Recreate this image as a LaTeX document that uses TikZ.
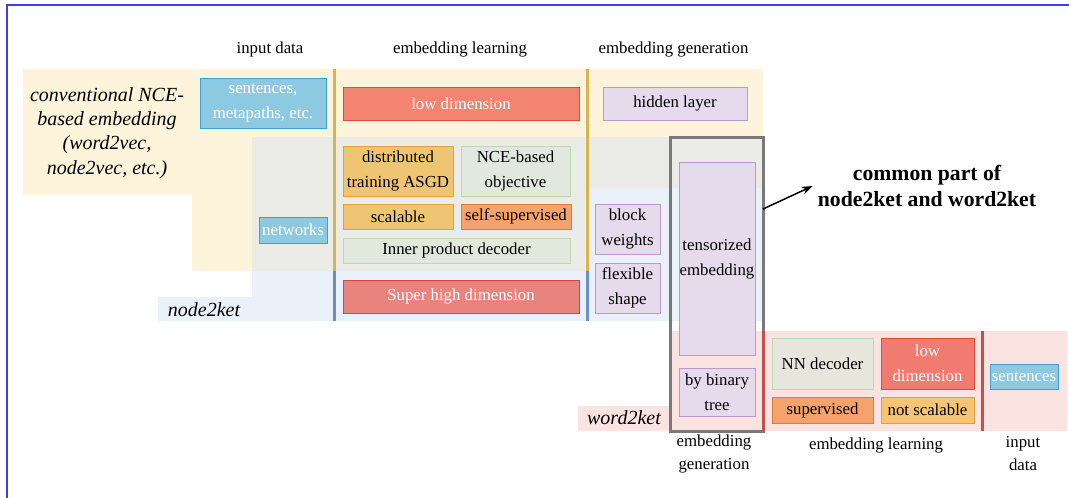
\documentclass[tikz,border=0pt]{standalone}
\usepackage{fontspec}
\setmainfont{Liberation Serif}
\usetikzlibrary{arrows.meta,positioning}

\definecolor{bgyellow}{HTML}{FEF3DB}
\definecolor{bgblue}{HTML}{EAF1FB}
\definecolor{bggray}{HTML}{EBECE8}
\definecolor{bgpink}{HTML}{FBE3E1}
\definecolor{framecol}{HTML}{3D3DF2}
\definecolor{divgold}{HTML}{D8B450}
\definecolor{divblue}{HTML}{6C8EC4}
\definecolor{divred}{HTML}{C4514E}
\definecolor{boxblue}{HTML}{8DCAE2}
\definecolor{boxblueline}{HTML}{3E9FD1}
\definecolor{boxred}{HTML}{F28471}
\definecolor{boxredline}{HTML}{DF4A3B}
\definecolor{boxrose}{HTML}{E9837E}
\definecolor{boxroseline}{HTML}{D8423F}
\definecolor{boxcoral}{HTML}{F07B71}
\definecolor{boxpurple}{HTML}{E5DBEC}
\definecolor{boxpurpleline}{HTML}{BC98CC}
\definecolor{boxgold}{HTML}{EEC673}
\definecolor{boxgoldline}{HTML}{E0A040}
\definecolor{boxamber}{HTML}{F6C574}
\definecolor{boxorange}{HTML}{F4A36C}
\definecolor{boxorangeline}{HTML}{E8783A}
\definecolor{boxgreen}{HTML}{E1E9DE}
\definecolor{boxgreenline}{HTML}{BCDAB0}
\definecolor{boxkhaki}{HTML}{E7E6DC}

\begin{document}
\begin{tikzpicture}[
    x=1pt, y=-1pt,
    wh/.style 2 args={minimum width=#1pt, minimum height=#2pt},
    box/.style={draw, align=center, inner sep=0pt, line width=0.9pt, font=\fontsize{16.8}{25}\selectfont},
    bluebox/.style={box, fill=boxblue, draw=boxblueline, text=white},
    redbox/.style={box, fill=boxred, draw=boxredline, text=white},
    rosebox/.style={box, fill=boxrose, draw=boxroseline, text=white},
    purplebox/.style={box, fill=boxpurple, draw=boxpurpleline},
    goldbox/.style={box, fill=boxgold, draw=boxgoldline},
    orangebox/.style={box, fill=boxorange, draw=boxorangeline},
    greenbox/.style={box, fill=boxgreen, draw=boxgreenline},
    head/.style={align=center, inner sep=0pt, font=\fontsize{16.8}{23}\selectfont},
    tag/.style={align=center, inner sep=0pt, font=\fontsize{20}{24.3}\selectfont\itshape},
    divider/.style={line width=3pt},
    link/.style={-{Stealth[length=11pt, width=8pt]}, line width=1.5pt}
]
\useasboundingbox (0,0) rectangle (1069,498);

% background regions
\fill[bgyellow] (23,69) -- (763,69) -- (763,188) -- (588,188) -- (588,271) -- (192,271) -- (192,195) -- (23,195) -- cycle;
\fill[bgblue] (252,137) -- (763,137) -- (763,321) -- (158,321) -- (158,297) -- (252,297) -- cycle;
\fill[bggray] (252,137) -- (763,137) -- (763,188) -- (588,188) -- (588,271) -- (252,271) -- cycle;
\fill[bgpink] (670,331) -- (1067,331) -- (1067,431) -- (578,431) -- (578,406) -- (670,406) -- cycle;

% frame
\draw[framecol, line width=1.2pt] (1069,5) -- (7,5) -- (7,498);

% column headers
\node[head] (hinput) at (270,49) {input data};
\node[head] (hlearn) at (460,49) {embedding learning};
\node[head] (hgen) at (673.5,49) {embedding generation};
\node[head] (bgen) at (714,453.5) {embedding\\generation};
\node[head] (blearn) at (876,445) {embedding learning};
\node[head] (binput) at (1023,453.5) {input\\data};

% row labels
\node[tag] (conv) at (107,133) {conventional NCE-\\based embedding\\(word2vec,\\node2vec, etc.)};
\node[tag] (n2k) at (204,310) {node2ket};
\node[tag] (w2k) at (624,418) {word2ket};

% common part frame
\node[draw=gray!95!black, line width=3pt, wh={93}{294}] (common) at (716.5,284) {};

% dividers
\draw[divider, divgold] (334,69) -- (334,271);
\draw[divider, divblue] (334,271) -- (334,321);
\draw[divider, divgold] (587,69) -- (587,271);
\draw[divider, divblue] (587,271) -- (587,321);
\draw[divider, divred] (763,331) -- (763,431);
\draw[divider, divred] (982,331) -- (982,431);

% conventional / node2ket boxes
\node[bluebox, wh={126}{50}] (sent) at (263,103) {sentences,\\metapaths, etc.};
\node[bluebox, wh={68}{26}] (netw) at (293,230) {networks};
\node[redbox, wh={236}{33}] (lowdim) at (461,103.5) {low dimension};
\node[purplebox, wh={144}{33}] (hidden) at (675,103.5) {hidden layer};
\node[goldbox, wh={110}{50}] (asgd) at (398,171) {distributed\\training ASGD};
\node[greenbox, wh={109}{50}] (nce) at (515.5,171) {NCE-based\\objective};
\node[goldbox, wh={110}{25}] (scal) at (398,216.5) {scalable};
\node[orangebox, wh={110}{25}] (selfsup) at (516,216.5) {self-supervised};
\node[greenbox, wh={227}{25}] (inner) at (456.5,250.5) {Inner product decoder};
\node[rosebox, wh={236}{33}] (superhigh) at (461,296.5) {Super high dimension};
\node[purplebox, wh={65}{50}] (block) at (627.5,229) {block\\weights};
\node[purplebox, wh={65}{50}] (flex) at (627.5,288) {flexible\\shape};
\node[purplebox, wh={76}{193}] (tensor) at (717,258.5) {tensorized\\embedding};
\node[purplebox, wh={76}{48}] (binary) at (717,392) {by binary\\tree};

% word2ket boxes
\node[greenbox, fill=boxkhaki, wh={101}{51}] (nndec) at (822.5,363.5) {NN decoder};
\node[redbox, fill=boxcoral, wh={93}{51}] (lowdim2) at (927.5,363.5) {low\\dimension};
\node[orangebox, wh={101}{26}] (superv) at (822.5,410) {supervised};
\node[goldbox, fill=boxamber, wh={93}{26}] (notscal) at (927.5,410) {not scalable};
\node[bluebox, wh={68}{25}] (sent2) at (1024,376.5) {sentences};

% common part note
\node[align=center, inner sep=0pt, font=\fontsize{21.7}{26}\selectfont\bfseries] (commontxt) at (927,186) {common part of\\node2ket and word2ket};
\coordinate (cpout) at (763,209);
\draw[link] (cpout) -- ([xshift=-5pt]commontxt.west);
\end{tikzpicture}
\end{document}
